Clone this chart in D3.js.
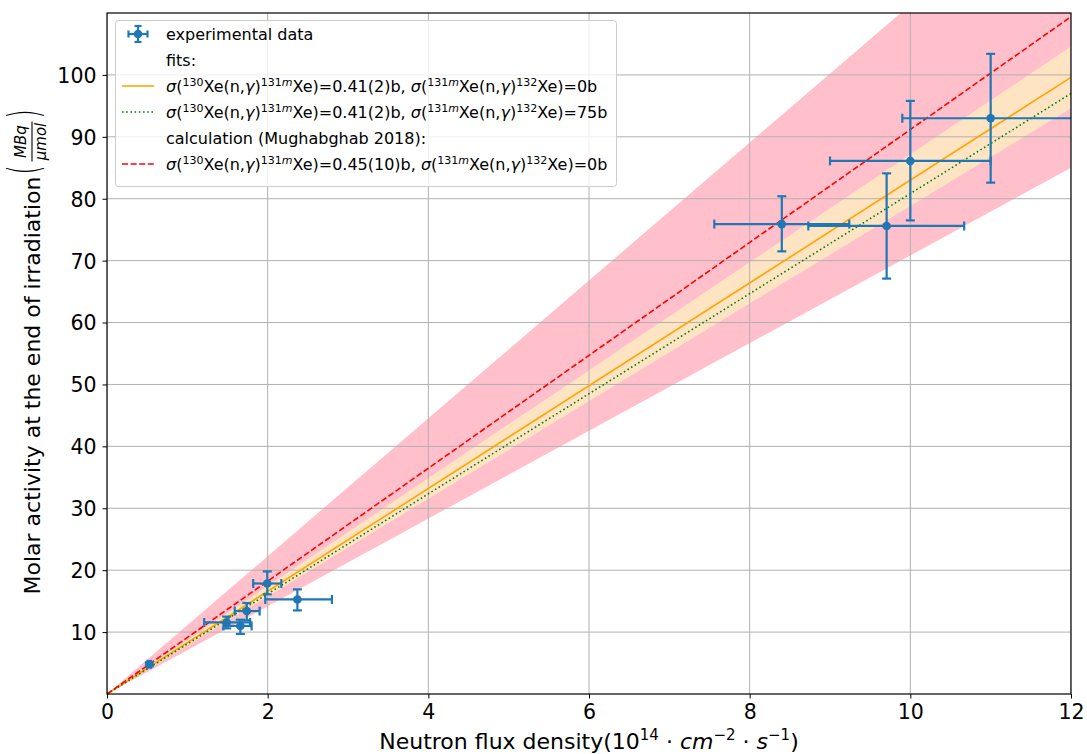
<!DOCTYPE html>
<html>
<head>
<meta charset="utf-8">
<script src="https://cdn.jsdelivr.net/npm/d3@7"></script>
<style>
  body { margin: 0; background: #fff; }
  svg { font-family: "DejaVu Sans", sans-serif; }
</style>
</head>
<body>
<svg id="chart" width="1087" height="754"></svg>
<script>
const width = 1087;
const height = 754;
const margin = { left: 107, right: 16, top: 13, bottom: 60 };

// experimental points
const fluxX = [0.527, 1.49, 1.66, 1.74, 1.995, 2.37, 8.40, 9.705, 10.0, 11.0];
const xLow  = [0.505, 1.21, 1.45, 1.59, 1.82, 1.97, 7.56, 8.73, 9.0, 9.9];
const xHigh = [0.549, 1.78, 1.80, 1.90, 2.17, 2.80, 9.24, 10.67, 11.0, 12.1];
const activity = [4.8, 11.56, 11.0, 13.4, 17.85, 15.27, 75.9, 75.6, 86.1, 93.0];
const yLow  = [4.5, 10.6, 9.7, 11.9, 16.1, 13.5, 71.5, 67.1, 76.5, 82.6];
const yHigh = [5.1, 12.5, 12.0, 14.7, 19.8, 16.9, 80.4, 84.1, 95.8, 103.4];

// fit / calculation lines (values at x = 0 and x = 12)
const lineX = [0, 12];
const fit0b = [0, 99.6];
const fit0bLow = [0, 94.6];
const fit0bHigh = [0, 104.6];
const fit75b = [0, 97.0];
const calc = [0, 109.4];
const calcLow = [0, 85.0];
const calcHigh = [0, 133.6];

const xTicks = [0, 2, 4, 6, 8, 10, 12];
const yTicks = [10, 20, 30, 40, 50, 60, 70, 80, 90, 100];

const svg = d3.select("#chart");
const x = d3.scaleLinear().domain([0, 12]).range([margin.left, width - margin.right]);
const y = d3.scaleLinear().domain([0, 110]).range([height - margin.bottom, margin.top]);

svg.append("clipPath").attr("id", "clip")
  .append("rect")
  .attr("x", x(0)).attr("y", y(110))
  .attr("width", x(12) - x(0)).attr("height", y(0) - y(110));

const plot = svg.append("g").attr("clip-path", "url(#clip)");

function band(lo, hi, color) {
  const pts = lineX.map((v, i) => ({ x: v, lo: lo[i], hi: hi[i] }));
  plot.append("path")
    .datum(pts)
    .attr("fill", color)
    .attr("d", d3.area().x(d => x(d.x)).y0(d => y(d.lo)).y1(d => y(d.hi)));
}
band(calcLow, calcHigh, "#ffc0cb");
band(fit0bLow, fit0bHigh, "#ffe4c4");

// grid
plot.append("g").selectAll("line").data(xTicks).join("line")
  .attr("x1", d => x(d)).attr("x2", d => x(d))
  .attr("y1", y(0)).attr("y2", y(110))
  .attr("stroke", "#b0b0b0").attr("stroke-width", 1);
plot.append("g").selectAll("line").data(yTicks).join("line")
  .attr("x1", x(0)).attr("x2", x(12))
  .attr("y1", d => y(d)).attr("y2", d => y(d))
  .attr("stroke", "#b0b0b0").attr("stroke-width", 1);

function fitLine(vals, color, dash) {
  const pts = lineX.map((v, i) => [v, vals[i]]);
  plot.append("path")
    .datum(pts)
    .attr("fill", "none")
    .attr("stroke", color)
    .attr("stroke-width", 1.6)
    .attr("stroke-dasharray", dash)
    .attr("d", d3.line().x(d => x(d[0])).y(d => y(d[1])));
}
fitLine(fit0b, "#ffa500", null);
fitLine(fit75b, "#008000", "1.6,2.6");
fitLine(calc, "#ff0000", "6,2.6");

// error bars
const blue = "#1f77b4";
const cap = 4.5;
const pts = fluxX.map((v, i) => ({ x: v, y: activity[i], x0: xLow[i], x1: xHigh[i], y0: yLow[i], y1: yHigh[i] }));
const eb = plot.append("g").attr("stroke", blue).attr("stroke-width", 2.2);
pts.forEach(d => {
  eb.append("line").attr("x1", x(d.x0)).attr("x2", x(d.x1)).attr("y1", y(d.y)).attr("y2", y(d.y));
  eb.append("line").attr("x1", x(d.x)).attr("x2", x(d.x)).attr("y1", y(d.y0)).attr("y2", y(d.y1));
  [d.x0, d.x1].forEach(v => eb.append("line").attr("x1", x(v)).attr("x2", x(v)).attr("y1", y(d.y) - cap).attr("y2", y(d.y) + cap));
  [d.y0, d.y1].forEach(v => eb.append("line").attr("x1", x(d.x) - cap).attr("x2", x(d.x) + cap).attr("y1", y(v)).attr("y2", y(v)));
});
plot.append("g").selectAll("circle").data(pts).join("circle")
  .attr("cx", d => x(d.x)).attr("cy", d => y(d.y)).attr("r", 4.3).attr("fill", blue);

// axes
const xAxis = svg.append("g").attr("transform", `translate(0,${y(0)})`)
  .call(d3.axisBottom(x).tickValues(xTicks).tickSize(4.5).tickPadding(6));
const yAxis = svg.append("g").attr("transform", `translate(${x(0)},0)`)
  .call(d3.axisLeft(y).tickValues(yTicks).tickSize(4.5).tickPadding(6));
[xAxis, yAxis].forEach(a => {
  a.select(".domain").remove();
  a.selectAll("text").attr("font-size", 20.5).attr("fill", "#000").attr("font-family", "DejaVu Sans");
  a.selectAll("line").attr("stroke", "#000").attr("stroke-width", 1);
});
yAxis.selectAll("text").attr("dy", "0.36em");
svg.append("rect")
  .attr("x", x(0)).attr("y", y(110))
  .attr("width", x(12) - x(0)).attr("height", y(0) - y(110))
  .attr("fill", "none").attr("stroke", "#000").attr("stroke-width", 1.2);

// x label
const xl = svg.append("text").attr("x", (x(0) + x(12)) / 2).attr("y", 749)
  .attr("text-anchor", "middle").attr("font-size", 22);
xl.append("tspan").text("Neutron flux density(10");
xl.append("tspan").attr("dy", -9).attr("font-size", 15).text("14");
xl.append("tspan").attr("dy", 9).text(" · ");
xl.append("tspan").attr("font-style", "italic").text("cm");
xl.append("tspan").attr("dy", -9).attr("font-size", 15).text("−2");
xl.append("tspan").attr("dy", 9).text(" · ");
xl.append("tspan").attr("font-style", "italic").text("s");
xl.append("tspan").attr("dy", -9).attr("font-size", 15).text("−1");
xl.append("tspan").attr("dy", 9).text(")");

// y label (text + fraction), centred on the axis
const yl = svg.append("g");
const ylText = yl.append("text").attr("x", 0).attr("y", 0).attr("font-size", 22)
  .text("Molar activity at the end of irradiation");
const tl = ylText.node().getComputedTextLength();
const fx = tl + 2;
const fracW = 62;
const total = fx + fracW;
yl.attr("transform", `translate(40,${(y(0) + y(110)) / 2 + total / 2}) rotate(-90)`);
yl.append("text").attr("x", fx).attr("y", 7).attr("font-size", 42).attr("font-weight", 200)
  .attr("transform", `translate(${fx},-8) scale(0.55,1) translate(${-fx},0)`)
  .text("(");
yl.append("text").attr("x", fx + 33).attr("y", -14).attr("text-anchor", "middle")
  .attr("font-size", 15).attr("font-style", "italic").text("MBq");
yl.append("line").attr("x1", fx + 13).attr("x2", fx + 53).attr("y1", -8).attr("y2", -8)
  .attr("stroke", "#000").attr("stroke-width", 1.1);
yl.append("text").attr("x", fx + 33).attr("y", 6).attr("text-anchor", "middle")
  .attr("font-size", 15).attr("font-style", "italic").text("μmol");
yl.append("text").attr("x", fx + 56).attr("y", 7).attr("font-size", 42).attr("font-weight", 200)
  .attr("transform", `translate(${fx + 56},-8) scale(0.55,1) translate(${-(fx + 56)},0)`)
  .text(")");

// legend
const lg = svg.append("g");
lg.append("rect").attr("x", 115.5).attr("y", 20.5).attr("width", 501).attr("height", 166)
  .attr("rx", 3).attr("fill", "#fff").attr("fill-opacity", 0.8)
  .attr("stroke", "#cccccc").attr("stroke-width", 1);

const rowY = [34, 60, 86, 112, 138, 164];
const tx = 166;
function sigma(g, parts) {
  // parts: [text, kind]; kind "n" normal, "s" superscript, "i" italic, "si" italic superscript
  const t = g.append("text").attr("x", tx).attr("font-size", 16);
  parts.forEach(([s, k]) => {
    const ts = t.append("tspan").text(s);
    if (k === "i" || k === "si") ts.attr("font-style", "italic");
    if (k === "s" || k === "si") ts.attr("font-size", 11).attr("baseline-shift", "super");
  });
  return t;
}
function reaction(val1, val2) {
  return [["σ", "i"], ["(", "n"], ["130", "s"], ["Xe(n,", "n"], ["γ", "i"], [")", "n"], ["131", "s"], ["m", "si"],
    ["Xe)=" + val1 + ", ", "n"], ["σ", "i"], ["(", "n"], ["131", "s"], ["m", "si"], ["Xe(n,", "n"], ["γ", "i"], [")", "n"],
    ["132", "s"], ["Xe)=" + val2, "n"]];
}

lg.append("text").attr("x", tx).attr("y", rowY[0] + 6).attr("font-size", 16).text("experimental data");
lg.append("text").attr("x", tx).attr("y", rowY[1] + 6).attr("font-size", 16).text("fits:");
sigma(lg, reaction("0.41(2)b", "0b")).attr("y", rowY[2] + 6);
sigma(lg, reaction("0.41(2)b", "75b")).attr("y", rowY[3] + 6);
lg.append("text").attr("x", tx).attr("y", rowY[4] + 6).attr("font-size", 16).text("calculation (Mughabghab 2018):");
sigma(lg, reaction("0.45(10)b", "0b")).attr("y", rowY[5] + 6);

// legend handles
const hx = 138;
const h = lg.append("g").attr("stroke", blue).attr("stroke-width", 2.2);
h.append("line").attr("x1", hx - 9.5).attr("x2", hx + 9.5).attr("y1", rowY[0]).attr("y2", rowY[0]);
h.append("line").attr("x1", hx).attr("x2", hx).attr("y1", rowY[0] - 8).attr("y2", rowY[0] + 8);
[-9.5, 9.5].forEach(o => h.append("line").attr("x1", hx + o).attr("x2", hx + o).attr("y1", rowY[0] - 3.5).attr("y2", rowY[0] + 3.5));
[-8, 8].forEach(o => h.append("line").attr("x1", hx - 3.5).attr("x2", hx + 3.5).attr("y1", rowY[0] + o).attr("y2", rowY[0] + o));
lg.append("circle").attr("cx", hx).attr("cy", rowY[0]).attr("r", 4.3).attr("fill", blue);

[[rowY[2], "#ffa500", null], [rowY[3], "#008000", "1.6,2.6"], [rowY[5], "#ff0000", "6,2.6"]].forEach(([yy, c, dash]) => {
  lg.append("line").attr("x1", 122).attr("x2", 154).attr("y1", yy).attr("y2", yy)
    .attr("stroke", c).attr("stroke-width", 1.6).attr("stroke-dasharray", dash);
});
</script>
</body>
</html>
